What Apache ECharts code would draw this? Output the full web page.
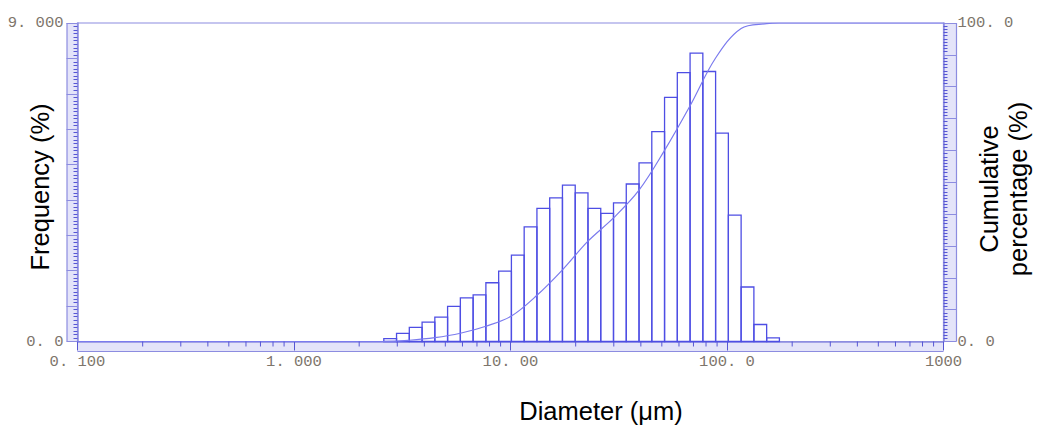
<!DOCTYPE html>
<html>
<head>
<meta charset="utf-8">
<script src="https://cdn.jsdelivr.net/npm/echarts@6/dist/echarts.min.js"></script>
<style>html,body{margin:0;padding:0;background:#fff;}#c{width:1041px;height:427px;}</style>
</head>
<body>
<div id="c"></div>
<script>
// ---- data ----
const binEdges = [2.599, 2.976, 3.409, 3.905, 4.472, 5.122, 5.867, 6.720, 7.697, 8.816,
  10.097, 11.565, 13.246, 15.172, 17.377, 19.904, 22.797, 26.111, 29.907, 34.255,
  39.234, 44.938, 51.471, 58.953, 67.523, 77.339, 88.583, 101.46, 116.21, 133.10,
  152.45, 174.61];
const frequency = [0.08, 0.23, 0.40, 0.55, 0.69, 0.99, 1.23, 1.32, 1.66, 1.99,
  2.44, 3.24, 3.76, 4.06, 4.42, 4.20, 3.76, 3.62, 3.92, 4.45,
  5.05, 5.93, 6.90, 7.60, 8.15, 7.63, 5.89, 3.57, 1.54, 0.48, 0.10];
const cumDiameter = [0.1, 2.599, 3.409, 4.472, 5.867, 7.697, 10.10, 13.25, 17.38, 22.80,
  29.91, 39.23, 51.47, 67.52, 88.58, 116.2, 152.4, 174.6, 1000];
const cumPercent = [0, 0, 0.4, 1.2, 2.6, 4.8, 8.0, 14.5, 22.5, 31.5,
  38.8, 47.5, 60.0, 74.0, 89.0, 98.3, 99.8, 100, 100];
const xTickLabels = ['0. 100', '1. 000', '10. 00', '100. 0', '1000'];
const leftTickLabels = {0: '0. 0', 9: '9. 000'};
const rightTickLabels = {0: '0. 0', 100: '100. 0'};
const minorTicks = [0.2,0.3,0.4,0.5,0.6,0.7,0.8,0.9, 2,3,4,5,6,7,8,9,
  20,30,40,50,60,70,80,90, 200,300,400,500,600,700,800,900];

// ---- chart ----
const LINE = '#8c8ce0', TICK = '#5656d4', BAND = 'rgba(170,170,235,0.32)';
const LABEL = {color: '#7d756b', fontFamily: 'Liberation Mono', fontSize: 15.5};
const TITLE_FONT = '25.5px "Liberation Sans"';
const G = {left: 77.5, right: 943.5, top: 23, bottom: 341.5};

const bars = frequency.map((f, i) => [binEdges[i], binEdges[i + 1], f]);

function band(x, y, w, h) {
  return {type: 'rect', z: 0, silent: true, shape: {x: x, y: y, width: w, height: h},
    style: {fill: BAND}};
}
function rule(x1, y1, x2, y2) {
  return {type: 'line', z: 1, silent: true, shape: {x1: x1, y1: y1, x2: x2, y2: y2},
    style: {stroke: LINE, lineWidth: 1.2}};
}

const chart = echarts.init(document.getElementById('c'), null, {renderer: 'svg'});
chart.setOption({
  animation: false,
  backgroundColor: '#fff',
  grid: {left: G.left, right: 1041 - G.right, top: G.top, bottom: 427 - G.bottom, show: true,
    borderColor: LINE, borderWidth: 1.2, backgroundColor: 'transparent'},
  xAxis: [
    {type: 'log', logBase: 10, min: 0.1, max: 1000, position: 'bottom', z: 3,
      axisLine: {lineStyle: {color: LINE, width: 1.5}},
      axisTick: {length: 9, lineStyle: {color: TICK, width: 1}},
      axisLabel: Object.assign({margin: 12,
        formatter: v => xTickLabels[Math.round(Math.log10(v)) + 1] || ''}, LABEL),
      splitLine: {show: false}}
  ],
  yAxis: [
    {type: 'value', min: 0, max: 9, interval: 1, position: 'left', z: 3,
      axisLine: {show: true, lineStyle: {color: LINE, width: 1.5}},
      axisTick: {show: true, length: 11, lineStyle: {color: LINE}},
      minorTick: {show: true, splitNumber: 10, length: 4, lineStyle: {color: TICK}},
      axisLabel: Object.assign({margin: 14, formatter: v => leftTickLabels[v] || ''}, LABEL),
      splitLine: {show: false}},
    {type: 'value', min: 0, max: 100, interval: 10, position: 'right', z: 3,
      axisLine: {show: true, lineStyle: {color: LINE, width: 1.5}},
      axisTick: {show: true, length: 13, lineStyle: {color: LINE}},
      minorTick: {show: true, splitNumber: 10, length: 4, lineStyle: {color: TICK}},
      axisLabel: Object.assign({margin: 14, formatter: v => rightTickLabels[v] || ''}, LABEL),
      splitLine: {show: false}}
  ],
  series: [
    {type: 'custom', name: 'Frequency', xAxisIndex: 0, yAxisIndex: 0,
      encode: {x: [0, 1], y: 2}, data: bars, z: 4,
      renderItem: function (params, api) {
        const p0 = api.coord([api.value(0), api.value(2)]);
        const p1 = api.coord([api.value(1), 0]);
        return {type: 'rect',
          shape: {x: p0[0], y: p0[1], width: p1[0] - p0[0], height: p1[1] - p0[1]},
          style: {fill: 'rgba(255,255,255,0)', stroke: '#4e4ee4', lineWidth: 1.3}};
      }},
    {type: 'line', name: 'Cumulative', xAxisIndex: 0, yAxisIndex: 1, z: 5,
      data: cumDiameter.map((d, i) => [d, cumPercent[i]]),
      smooth: 0.35, symbol: 'none',
      lineStyle: {color: '#7b7bee', width: 1.2}},
    {type: 'custom', name: 'minorX', xAxisIndex: 0, yAxisIndex: 0, clip: false, silent: true, z: 6,
      data: minorTicks.map(v => [v, 0]),
      renderItem: function (params, api) {
        const p = api.coord([api.value(0), 0]);
        return {type: 'line', shape: {x1: p[0], y1: p[1], x2: p[0], y2: p[1] + 5},
          style: {stroke: TICK, lineWidth: 1}};
      }}
  ],
  graphic: [
    band(67, G.top, G.left - 67, G.bottom - G.top),
    rule(67, G.top, 67, G.bottom),
    band(G.right, G.top, 13, G.bottom - G.top),
    rule(G.right + 13, G.top, G.right + 13, G.bottom),
    band(G.left, G.bottom, G.right - G.left, 10),
    rule(G.left, G.bottom + 10, G.right, G.bottom + 10),
    {type: 'text', x: 40, y: 187, rotation: Math.PI / 2,
      style: {text: 'Frequency (%)', font: TITLE_FONT, fill: '#000', align: 'center', verticalAlign: 'middle'}},
    {type: 'text', x: 1003, y: 189, rotation: Math.PI / 2,
      style: {text: 'Cumulative\npercentage (%)', font: TITLE_FONT, fill: '#000', align: 'center',
        verticalAlign: 'middle', lineHeight: 29}},
    {type: 'text', x: 601, y: 411,
      style: {text: 'Diameter (μm)', font: TITLE_FONT, fill: '#000', align: 'center', verticalAlign: 'middle'}}
  ]
});
</script>
</body>
</html>
